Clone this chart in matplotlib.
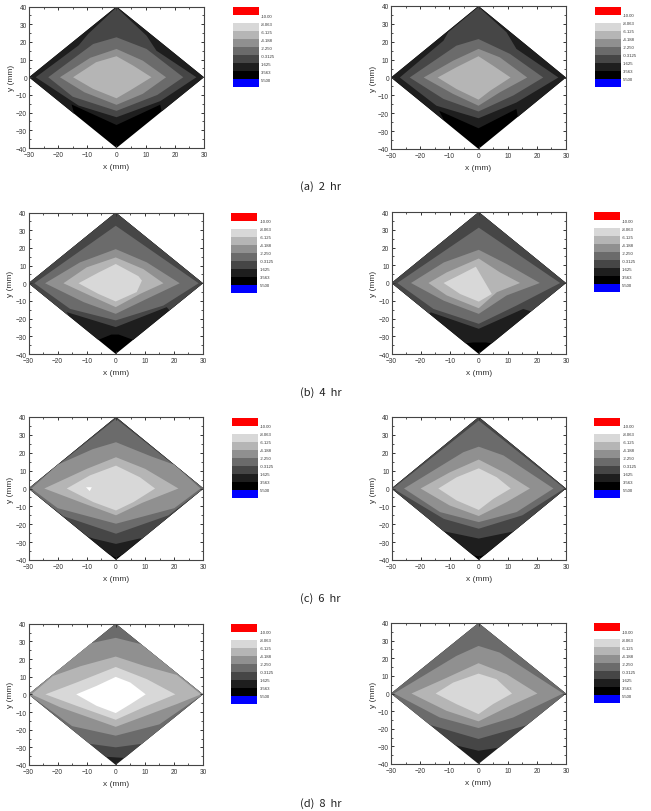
import matplotlib
matplotlib.use("Agg")
import matplotlib.pyplot as plt

W_PX, H_PX = 651, 812

## Contour levels and the gray used inside each level line
legend_labels = ["-10.00", "-8.063", "-6.125", "-4.188", "-2.250", "-0.3125", "1.625", "3.563", "5.500"]
legend_colors = ["#ff0000", "#ffffff", "#d8d8d8", "#b5b5b5", "#909090", "#6b6b6b", "#464646", "#1e1e1e", "#000000", "#0000ff"]
band_gray = {-8.063: "#ffffff", -6.125: "#d8d8d8", -4.188: "#b5b5b5", -2.25: "#909090",
             -0.3125: "#6b6b6b", 1.625: "#464646", 3.563: "#1e1e1e", 5.5: "#000000"}

## Specimen outline (mm)
outline = [(30, 0), (0, 40), (-30, 0), (0, -40)]

## Iso-level lines read per specimen (x, y in mm), going round from +x
hr2_left = {
    5.5: outline,
    3.563: [(30, 0), (0, 40), (-30, 0), (-14.5, -20.7), (-15.4, -15.4), (0, -27), (15, -15.5), (15.5, -19.3)],
    1.625: [(27.4, 0), (13.7, 15), (10.3, 23.5), (0, 39.5), (-9.7, 24.5), (-13, 18), (-27.7, 0), (-13, -16), (0, -22.6), (15, -13.5)],
    -0.3125: [(22.9, 0), (10.3, 16), (0, 22.6), (-8, 18.8), (-23.4, 0), (-15, -11), (0, -19), (14, -10)],
    -2.25: [(17, 0), (9, 9.4), (0, 16), (-9, 11), (-19.4, 0), (-11, -8.5), (0, -15.6), (9, -9.4)],
    -4.188: [(12, 0), (5.7, 6.6), (0, 11.9), (-7, 8.5), (-14.9, 0), (-8, -6.6), (0, -11.9), (4.6, -7.5)],
}
hr2_right = {
    5.5: outline,
    3.563: [(30, 0), (0, 40), (-30, 0), (-11.8, -24), (-13.5, -18.6), (0, -28.4), (13, -17.6), (13.5, -22)],
    1.625: [(27.4, 0), (13, 16), (9.6, 25.3), (0, 39.5), (-10.4, 25.3), (-12, 20.6), (-27, 0), (-14.4, -15.8), (0, -22.8), (13, -14)],
    -0.3125: [(22.2, 0), (10.8, 13.2), (0, 21.5), (-7.6, 17.8), (-23.6, 0), (-12, -12), (0, -19), (12, -10)],
    -2.25: [(16.7, 0), (7.3, 11.3), (0, 16), (-8.7, 9.4), (-18.8, 0), (-8.7, -9.2), (0, -15.8), (7.3, -8.3)],
    -4.188: [(11, 0), (5, 6.6), (0, 11.9), (-7.6, 5.7), (-14, 0), (-7.6, -6.4), (0, -12.4), (4, -7.4)],
}
hr4_left = {
    5.5: outline,
    3.563: [(30, 0), (0, 40), (-30, 0), (-6, -32), (-1.5, -29), (1, -29), (6, -32)],
    1.625: [(30, 0), (0, 40), (-30, 0), (-16, -18.7), (-16.9, -16.3), (0, -24.8), (17.5, -13.5), (18.5, -15.3)],
    -0.3125: [(28.5, 0), (0, 32.5), (-28, 0), (-15.7, -14.5), (0, -21), (16.4, -12.6)],
    -2.25: [(22, 0), (10.7, 11.8), (0, 19.3), (-12.3, 11.8), (-24.3, 0), (-11, -10.7), (0, -17.3), (10.7, -8.8)],
    -4.188: [(16.4, 0), (9.5, 8), (0, 14.6), (-10, 9), (-18, 0), (-8.8, -7), (0, -13.5), (8.4, -6)],
    -6.125: [(9, 1.5), (7.8, 4), (0, 10.9), (-6, 6), (-12.8, 0), (-6, -6), (0, -10.3), (7.2, -5)],
}
hr4_right = {
    5.5: outline,
    3.563: [(30, 0), (0, 40), (-30, 0), (-4.5, -34), (-2, -33.5), (2.5, -33.5), (4.5, -34)],
    1.625: [(30, 0), (0, 40), (-30, 0), (-17, -17.3), (-16.5, -16.5), (0, -25.8), (15.3, -14.6), (18, -16)],
    -0.3125: [(28, 0), (0, 31.2), (-28, 0), (-15.6, -14.6), (0, -23), (13, -12.7)],
    -2.25: [(21, 0), (9.6, 10.7), (0, 18.7), (-12, 11.6), (-23.3, 0), (-12, -10), (0, -17.4), (9.6, -7)],
    -4.188: [(14.2, 0), (7.3, 6), (0, 13.8), (-11, 6), (-17.3, 0), (-11, -7), (0, -14.2), (6.2, -5.2)],
    -6.125: [(4.5, -6.2), (-1, 9.2), (-6, 5), (-12.1, 0), (-6.4, -6.2), (0, -10.5)],
}
hr6_left = {
    5.5: outline,
    3.563: [(30, 0), (0, 40), (-30, 0), (-2.5, -36.7), (0, -38.7), (2.5, -36.7)],
    1.625: [(30, 0), (0, 40), (-30, 0), (-9.6, -27), (-7.8, -28), (0, -31), (8, -28), (9, -28)],
    -0.3125: [(30, 0), (0, 39), (-30, 0), (-18, -15.5), (0, -25.3), (18, -15)],
    -2.25: [(29, 0), (20, 13.3), (12, 18), (0, 25.9), (-8, 22), (-20, 13.3), (-29, 0), (-20, -11), (0, -19.7), (20, -11)],
    -4.188: [(21.4, 0), (10, 11), (0, 17.5), (-10, 11), (-24.6, 0), (-10, -9), (0, -15), (9, -8)],
    -6.125: [(13.4, 0), (8.2, 6.3), (0, 12.8), (-9, 7.3), (-16.9, 0), (-7.8, -7.6), (0, -12.3), (6, -7.6)],
    -8.063: [(-8.3, 0.7), (-10.3, 0.7), (-9, -1.5)],
}
hr6_right = {
    5.5: outline,
    3.563: [(30, 0), (0, 40), (-30, 0), (-2, -37.3), (0, -38), (2, -37.3)],
    1.625: [(30, 0), (0, 40), (-30, 0), (-12.1, -23.9), (0, -28), (12, -24)],
    -0.3125: [(29.5, 0), (0, 38), (-29.5, 0), (-12, -17), (0, -22.5), (15, -15)],
    -2.25: [(25.7, 0), (8.5, 18.5), (0, 23.4), (-5.3, 20.3), (-25.7, 0), (-13.3, -13.2), (0, -18.8), (13, -13.2)],
    -4.188: [(17.6, 0), (9.6, 8.2), (0, 16.2), (-10, 9), (-20, 0), (-10, -9.5), (0, -15.4), (9.6, -7.6)],
    -6.125: [(11, 0), (6.2, 6.3), (0, 11.3), (-7.6, 6.3), (-13.9, 0), (-7.6, -6.7), (0, -12), (5, -5.8)],
}
hr8_left = {
    3.563: outline,
    1.625: [(30, 0), (0, 40), (-30, 0), (-3.5, -35.3), (0, -35.7), (3, -36)],
    -0.3125: [(30, 0), (0, 40), (-30, 0), (-9, -28), (0, -30), (9, -28)],
    -2.25: [(30, 0), (8.7, 28.4), (0, 32), (-8.4, 29), (-30, 0), (-15, -18), (0, -23.4), (15, -17)],
    -4.188: [(29.3, 0), (21, 11), (10, 16), (0, 21.4), (-12, 16), (-21.6, 10.4), (-29, 0), (-19, -7.4), (0, -18.4), (21, -5.5)],
    -6.125: [(20.5, 0), (10.7, 8.6), (0, 15.5), (-13.5, 6.7), (-24.2, 0), (-13.5, -6.5), (0, -14.4), (9.5, -7.4)],
    -8.063: [(10.3, 0), (5, 6.7), (0, 9.9), (-6.6, 4.8), (-13.6, 0), (-6.6, -6.5), (0, -10.6), (5, -5.6)],
}
hr8_right = {
    3.563: outline,
    1.625: [(30, 0), (0, 40), (-30, 0), (-8, -29.3), (0, -32.5), (7, -30.7)],
    -0.3125: [(30, 0), (0, 40), (-30, 0), (-16.7, -17.8), (0, -25.8), (16.5, -18)],
    -2.25: [(29, 0), (7.3, 23.2), (0, 27), (-7.6, 21.3), (-29, 0), (-13.3, -13.6), (0, -19.6), (11.9, -13.6)],
    -4.188: [(20.2, 0), (9.6, 11), (0, 17.2), (-12, 8.1), (-23, 0), (-11, -9.8), (0, -15.8), (10.8, -7)],
    -6.125: [(11.5, 0), (6.2, 8.1), (0, 11.3), (-8.7, 6.2), (-14.7, 0), (-7.6, -6), (0, -11.7), (5, -6)],
}
panels = [hr2_left, hr2_right, hr4_left, hr4_right, hr6_left, hr6_right, hr8_left, hr8_right]

captions = ["(a)  2  hr", "(b)  4  hr", "(c)  6  hr", "(d)  8  hr"]
caption_y = [187, 393, 599, 804]

## Layout in pixels: frame left, right, top, bottom and legend left, top
frames = [(29, 204, 7.5, 149), (391, 566, 7, 150),
          (28.5, 203, 213.5, 355), (391.5, 566, 213, 355),
          (28.5, 203.5, 418, 561), (391.5, 566, 418, 561),
          (28.5, 203, 624.7, 766), (391, 566, 624, 765)]
legends = [(233, 8), (594.7, 7.7), (231.3, 213.7), (593.7, 213.3),
           (232, 418.7), (594.3, 418.7), (231.3, 624.7), (593.7, 624.3)]


def px_axes(fig, left, right, top, bottom):
    return fig.add_axes([left / W_PX, 1 - bottom / H_PX, (right - left) / W_PX, (bottom - top) / H_PX])


def draw_contours(ax, rings):
    for level, ring in rings.items():
        xs, ys = zip(*ring)
        ax.fill(xs, ys, facecolor=band_gray[level], edgecolor="none", antialiased=True)

    ax.set_xlim(-30, 30)
    ax.set_ylim(-40, 40)
    ax.set_xticks(range(-30, 31, 10))
    ax.set_yticks(range(-40, 41, 10))
    ax.set_xticks(range(-25, 30, 10), minor=True)
    ax.set_yticks(range(-35, 40, 10), minor=True)
    ax.tick_params(which="major", direction="in", top=True, right=True, length=2.4, width=0.7,
                   color="#333333", labelsize=4.7, labelcolor="#333333", pad=1.5)
    ax.tick_params(axis="x", which="major", pad=2.5)
    ax.tick_params(which="minor", direction="in", top=True, right=True, length=1.3, width=0.6, color="#333333")
    ax.set_xlabel("x (mm)", fontsize=6, color="#333333", labelpad=3)
    ax.set_ylabel("y (mm)", fontsize=6, color="#333333", labelpad=1)
    for spine in ax.spines.values():
        spine.set_linewidth(0.8)
        spine.set_color("#444444")


def draw_legend(fig, left, top):
    ax = px_axes(fig, left, left + 26, top, top + 80)
    for i, color in enumerate(legend_colors):
        ax.bar(0.5, 1, width=1, bottom=i, color=color, linewidth=0)
    ax.set_xlim(0, 1)
    ax.set_ylim(len(legend_colors), 0)
    ax.set_xticks([])
    ax.set_yticks(range(1, len(legend_labels) + 1))
    ax.set_yticklabels(legend_labels)
    ax.yaxis.tick_right()
    ax.tick_params(axis="y", length=0, labelsize=3.1, labelcolor="#333333", pad=1.5)
    for spine in ax.spines.values():
        spine.set_visible(False)


plt.rcParams["font.family"] = ["Liberation Sans", "DejaVu Sans"]
fig = plt.figure(figsize=(W_PX / 100, H_PX / 100), dpi=100)

for rings, frame, legend in zip(panels, frames, legends):
    draw_contours(px_axes(fig, *frame), rings)
    draw_legend(fig, *legend)

for caption, y in zip(captions, caption_y):
    fig.text(300 / W_PX, 1 - y / H_PX, caption, fontsize=8, color="#222222", va="center",
             family=["Noto Sans CJK KR", "DejaVu Sans"])

fig.savefig("out.png", dpi=100)
